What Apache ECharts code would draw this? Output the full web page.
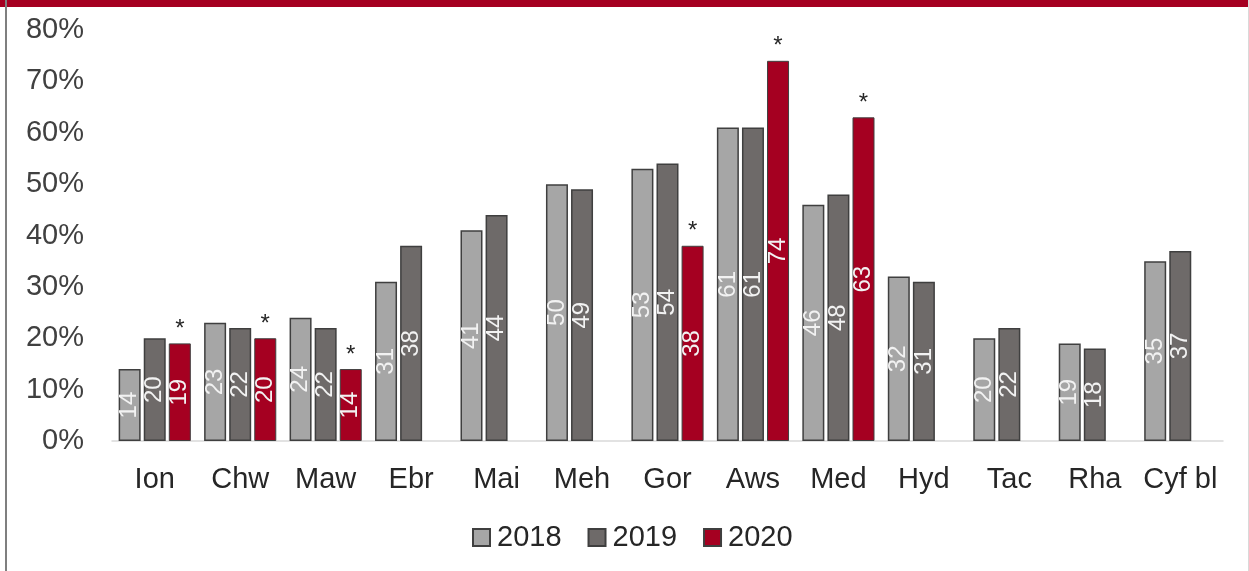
<!DOCTYPE html>
<html>
<head>
<meta charset="utf-8">
<script src="https://cdn.jsdelivr.net/npm/echarts@6/dist/echarts.min.js"></script>
<style>
  html, body { margin: 0; padding: 0; background: #fff; }
  .frame { position: relative; width: 1249px; height: 571px; overflow: hidden; }
  .topBand { position: absolute; left: 0; top: 0; width: 1249px; height: 7px; background: #a50021; z-index: 2; }
  .leftLine { position: absolute; left: 5px; top: 0; width: 2px; height: 571px; background: #7f7f7f; z-index: 2; }
  .rightLine { position: absolute; right: 0; top: 0; width: 1px; height: 571px; background: #d9d9d9; z-index: 2; }
  #mychart { position: absolute; left: 0; top: 0; width: 1249px; height: 571px; }
</style>
</head>
<body>
<div class="frame">
  <div class="topBand"></div>
  <div class="leftLine"></div>
  <div class="rightLine"></div>
  <div id="mychart"></div>
</div>
<script>
// categories and values (percent)
const categories = ['Ion', 'Chw', 'Maw', 'Ebr', 'Mai', 'Meh', 'Gor', 'Aws', 'Med', 'Hyd', 'Tac', 'Rha', 'Cyf bl']
const data2018 = [14, 23, 24, 31, 41, 50, 53, 61, 46, 32, 20, 19, 35]
const data2019 = [20, 22, 22, 38, 44, 49, 54, 61, 48, 31, 22, 18, 37]
const data2020 = [19, 20, 14, null, null, null, 38, 74, 63, null, null, null, null]
// asterisk markers sit on top of the 2020 bars
const starMarks = [0, 0, 0, null, null, null, 0, 0, 0, null, null, null, null]
const yTicks = [0, 10, 20, 30, 40, 50, 60, 70, 80]

const font = '"Liberation Sans", Arial, sans-serif'

function barLabel () {
  return {
    show: true,
    position: 'inside',
    rotate: 90,
    color: '#f2f2f2',
    fontSize: 24,
    fontFamily: font
  }
}

let myChart = echarts.init(document.getElementById('mychart'))
myChart.setOption({
  animation: false,
  textStyle: { fontFamily: font },
  legend: {
    data: ['2018', '2019', '2020'],
    bottom: 14,
    left: 467,
    itemWidth: 17,
    itemHeight: 17,
    itemGap: 26,
    icon: 'rect',
    textStyle: { fontSize: 29, color: '#262626', fontFamily: font, padding: [0, 0, 0, 2] }
  },
  grid: {
    left: 112,
    right: 26,
    top: 30,
    bottom: 130
  },
  xAxis: {
    type: 'category',
    data: categories,
    axisLine: { lineStyle: { color: '#d9d9d9', width: 1.5 } },
    axisTick: { show: false },
    axisLabel: { interval: 0, fontSize: 29, color: '#262626', margin: 24, fontFamily: font }
  },
  yAxis: {
    type: 'value',
    min: yTicks[0],
    max: yTicks[yTicks.length - 1],
    interval: 10,
    splitLine: { show: false },
    axisLine: { show: false },
    axisTick: { show: false },
    axisLabel: { formatter: '{value}%', fontSize: 29, color: '#404040', margin: 28, fontFamily: font }
  },
  series: [
    {
      name: '2018',
      type: 'bar',
      barWidth: 22,
      barGap: '14%',
      itemStyle: { color: '#a6a6a6', borderColor: '#3f3f3f', borderWidth: 1.5 },
      label: barLabel(),
      data: data2018
    },
    {
      name: '2019',
      type: 'bar',
      barWidth: 22,
      barGap: '14%',
      itemStyle: { color: '#6e6a69', borderColor: '#3f3f3f', borderWidth: 1.5 },
      label: barLabel(),
      data: data2019
    },
    {
      name: '2020',
      type: 'bar',
      stack: 'r',
      barWidth: 22,
      barGap: '14%',
      itemStyle: { color: '#a50021', borderColor: '#3f3f3f', borderWidth: 1 },
      label: barLabel(),
      data: data2020
    },
    {
      name: 'star',
      type: 'bar',
      stack: 'r',
      barWidth: 22,
      barGap: '14%',
      silent: true,
      itemStyle: { color: 'transparent', borderWidth: 0 },
      label: {
        show: true,
        position: 'top',
        distance: 2,
        formatter: '*',
        fontSize: 24,
        color: '#262626',
        fontFamily: font
      },
      data: starMarks
    }
  ]
})
</script>
</body>
</html>
